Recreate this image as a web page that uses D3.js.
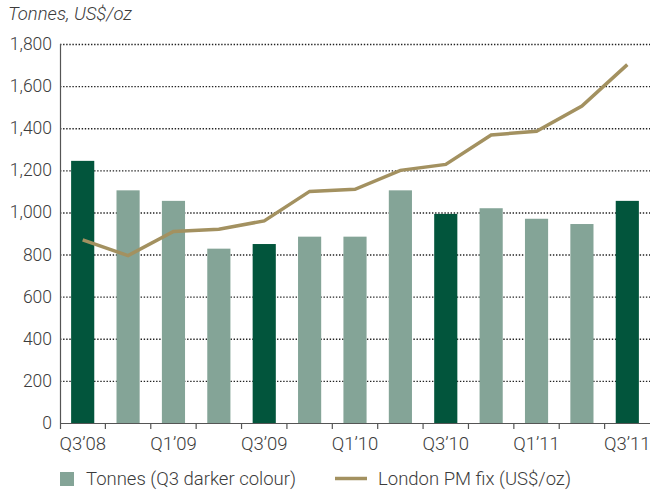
<!DOCTYPE html>
<html>
<head>
<meta charset="utf-8">
<script src="https://cdn.jsdelivr.net/npm/d3@7"></script>
<style>
  body { margin: 0; background: #fff; }
  text { font-family: Roboto, "Liberation Sans", sans-serif; font-weight: 300; fill: #3c3c3c; }
</style>
</head>
<body>
<div id="chart"></div>
<script>
// quarters, Q3'08 .. Q3'11
var quarters = ["Q3'08", "Q4'08", "Q1'09", "Q2'09", "Q3'09", "Q4'09", "Q1'10",
                "Q2'10", "Q3'10", "Q4'10", "Q1'11", "Q2'11", "Q3'11"];
var tonnes = [1245, 1105, 1055, 828, 850, 885, 885, 1105, 993, 1020, 970, 945, 1055];
var pmFix = [870, 795, 910, 920, 960, 1100, 1110, 1200, 1228, 1368, 1386, 1505, 1702];
var yTicks = [0, 200, 400, 600, 800, 1000, 1200, 1400, 1600, 1800];
var xLabels = ["Q3’08", "Q1’09", "Q3’09", "Q1’10", "Q3’10", "Q1’11", "Q3’11"];

var width = 652, height = 492;
var margin = {top: 44, right: 2, bottom: 69, left: 60};

var svg = d3.select("#chart").append("svg")
    .attr("width", width)
    .attr("height", height);

var x = d3.scaleBand()
    .domain(quarters)
    .range([margin.left, width - margin.right])
    .paddingInner(0.49)
    .paddingOuter(0.245);

// band edges for the tick marks
var step = (width - margin.right - margin.left) / quarters.length;

var y = d3.scaleLinear()
    .domain([0, 1800])
    .range([height - margin.bottom, margin.top]);

// dotted gridlines
svg.append("g")
  .selectAll("line")
  .data(yTicks.filter(function(d) { return d > 0; }))
  .enter().append("line")
    .attr("x1", margin.left)
    .attr("x2", width - margin.right)
    .attr("y1", function(d) { return y(d) + 0.5; })
    .attr("y2", function(d) { return y(d) + 0.5; })
    .attr("stroke", "#222")
    .attr("stroke-width", 1.4)
    .attr("stroke-dasharray", "1.4,1.7");

// y labels
svg.append("g")
  .selectAll("text")
  .data(yTicks)
  .enter().append("text")
    .attr("x", margin.left - 8)
    .attr("y", function(d) { return y(d) + 6; })
    .attr("text-anchor", "end")
    .style("font-size", "17.5px")
    .text(function(d) { return d3.format(",")(d); });

// bars
svg.append("g")
  .selectAll("rect")
  .data(tonnes)
  .enter().append("rect")
    .attr("x", function(d, i) { return x(quarters[i]); })
    .attr("width", x.bandwidth())
    .attr("y", function(d) { return y(d); })
    .attr("height", function(d) { return y(0) - y(d); })
    .attr("fill", function(d, i) { return quarters[i].indexOf("Q3") === 0 ? "#02553c" : "#84a497"; });

// axes lines
svg.append("line")
    .attr("x1", margin.left + 0.5).attr("x2", margin.left + 0.5)
    .attr("y1", margin.top).attr("y2", y(0) + 6)
    .attr("stroke", "#555").attr("stroke-width", 1.2);
svg.append("line")
    .attr("x1", margin.left).attr("x2", width - margin.right)
    .attr("y1", y(0) + 0.5).attr("y2", y(0) + 0.5)
    .attr("stroke", "#555").attr("stroke-width", 1.2);

// x tick marks at band edges
svg.append("g")
  .selectAll("line")
  .data(d3.range(1, quarters.length))
  .enter().append("line")
    .attr("x1", function(d) { return margin.left + d * step; })
    .attr("x2", function(d) { return margin.left + d * step; })
    .attr("y1", y(0))
    .attr("y2", y(0) + 6)
    .attr("stroke", "#555").attr("stroke-width", 1.2);

// x labels (every other quarter)
svg.append("g")
  .selectAll("text")
  .data(xLabels)
  .enter().append("text")
    .attr("x", function(d, i) { return x(quarters[i * 2]) + x.bandwidth() / 2; })
    .attr("y", 450)
    .attr("text-anchor", "middle")
    .style("font-size", "18.5px")
    .text(function(d) { return d; });

// London PM fix line
var line = d3.line()
    .x(function(d, i) { return x(quarters[i]) + x.bandwidth() / 2; })
    .y(function(d) { return y(d); });

svg.append("path")
    .datum(pmFix)
    .attr("d", line)
    .attr("fill", "none")
    .attr("stroke", "#a39160")
    .attr("stroke-width", 3.5);

// axis title
svg.append("text")
    .attr("x", 8)
    .attr("y", 20)
    .style("font-size", "18.5px")
    .style("font-style", "italic")
    .text("Tonnes, US$/oz");

// legend
svg.append("rect")
    .attr("x", 60).attr("y", 472)
    .attr("width", 14).attr("height", 14)
    .attr("fill", "#84a497");
svg.append("text")
    .attr("x", 86).attr("y", 485)
    .style("font-size", "18.5px")
    .text("Tonnes (Q3 darker colour)");

svg.append("line")
    .attr("x1", 335).attr("x2", 367)
    .attr("y1", 478.5).attr("y2", 478.5)
    .attr("stroke", "#a39160")
    .attr("stroke-width", 3.5);
svg.append("text")
    .attr("x", 378).attr("y", 485)
    .style("font-size", "18.5px")
    .text("London PM fix (US$/oz)");
</script>
</body>
</html>
